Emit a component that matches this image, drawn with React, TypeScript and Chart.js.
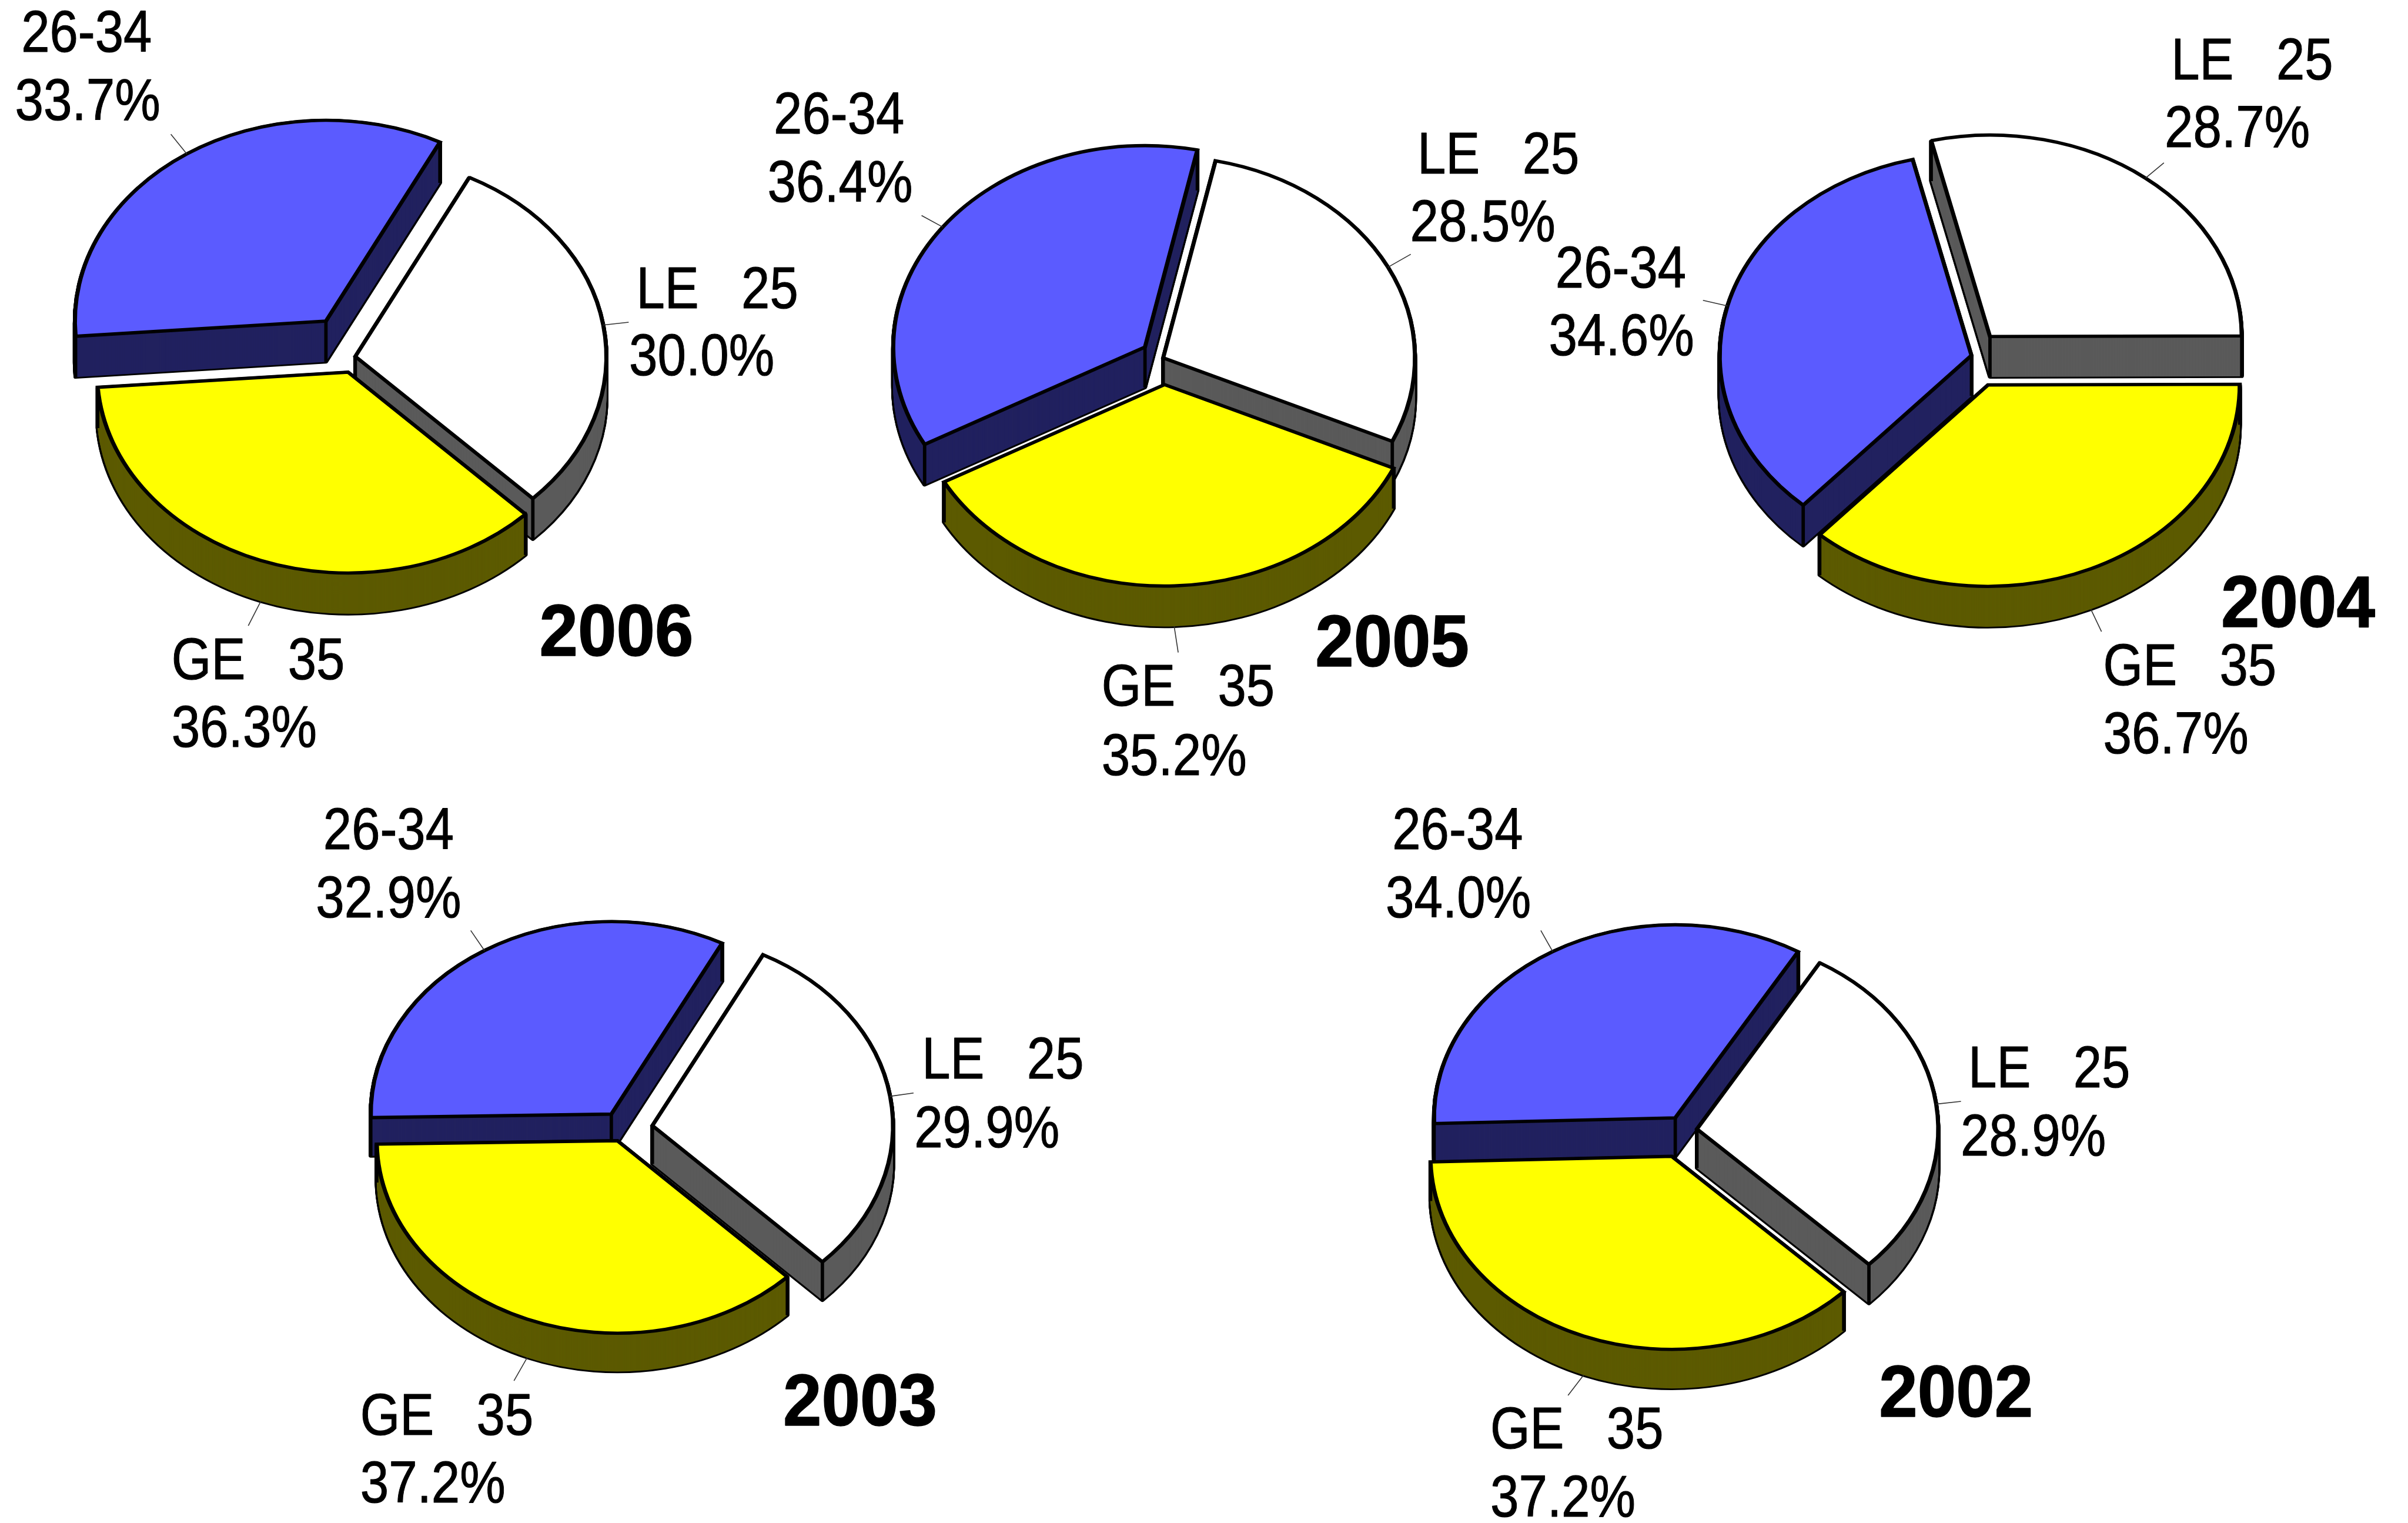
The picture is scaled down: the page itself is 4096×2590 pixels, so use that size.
import React, { useEffect, useRef } from "react";
import { Chart, registerables } from "chart.js";

Chart.register(...registerables);

// ---- data ----
const AGE_GROUPS = ["LE   25", "GE   35", "26-34"];
const YEARS = ["2006", "2005", "2004", "2003", "2002"];
const SHARE_2006 = [30.0, 36.3, 33.7];
const SHARE_2005 = [28.5, 35.2, 36.4];
const SHARE_2004 = [28.7, 36.7, 34.6];
const SHARE_2003 = [29.9, 37.2, 32.9];
const SHARE_2002 = [28.9, 37.2, 34.0];
const SHARES = [SHARE_2006, SHARE_2005, SHARE_2004, SHARE_2003, SHARE_2002];

const TOP_COLORS = ["#ffffff", "#ffff00", "#5b5bff"];
const WALL_COLORS = ["#5a5a5a", "#5c5a00", "#21215f"];

// ---- layout (in reference pixels) ----
const W = 4096;
const H = 2590;
const S = 4096 / 6906;
const TILT = 0.8;
const LINE = 6.4;
const PAINT_ORDER = [2, 0, 1];
const FONT = '"Liberation Sans", Arial, sans-serif';
const TEXT_NUDGE = -6;
const YEAR_NUDGE = -7;

type P = [number, number];
type Layout = {
  c: P;
  r: number;
  depth: number;
  rot: number;
  explode: number[];
  names: P[];
  values: P[];
  ends: P[];
  year: P;
};

const LAYOUTS: Layout[] = [
  {
    c: [1019, 1022], r: 720, depth: 117, rot: 27, explode: [0, 60, 152],
    names: [[1831, 883], [498, 1947], [67, 148]],
    values: [[1810, 1076], [498, 2141], [49, 344]],
    ends: [[1803, 924], [712, 1794], [490, 385]],
    year: [1554, 1880],
  },
  {
    c: [3336, 1026], r: 722, depth: 116, rot: 12, explode: [0, 96, 65],
    names: [[4071, 497], [3165, 2024], [2225, 383]],
    values: [[4050, 691], [3165, 2222], [2207, 579]],
    ends: [[4046, 729], [3379, 1871], [2643, 618]],
    year: [3779, 1910],
  },
  {
    c: [5654, 1019], r: 722, depth: 116, rot: -13.5, explode: [86, 116, 0],
    names: [[6233, 228], [6038, 1965], [4467, 824]],
    values: [[6214, 422], [6038, 2159], [4448, 1018]],
    ends: [[6206, 467], [6027, 1811], [4884, 861]],
    year: [6377, 1797],
  },
  {
    c: [1787, 3238], r: 690, depth: 110, rot: 27.4, explode: [85, 44, 64],
    names: [[2650, 3093], [1039, 4114], [933, 2435]],
    values: [[2628, 3289], [1039, 4307], [912, 2630]],
    ends: [[2620, 3134], [1474, 3959], [1350, 2668]],
    year: [2253, 4087],
  },
  {
    c: [4831, 3241], r: 692, depth: 112, rot: 30.6, explode: [36, 100, 52],
    names: [[5651, 3117], [4280, 4152], [3999, 2435]],
    values: [[5629, 3313], [4280, 4348], [3980, 2630]],
    ends: [[5624, 3158], [4497, 4001], [4419, 2668]],
    year: [5396, 4062],
  },
];

function drawLabel(ctx: any, text: string, at: P, nudge: number, font: string, squeeze: number, weight: number) {
  ctx.save();
  ctx.translate((at[0] + nudge) * S, at[1] * S);
  ctx.scale(squeeze, 1);
  ctx.font = font;
  ctx.fillStyle = "#000";
  ctx.strokeStyle = "#000";
  ctx.lineWidth = weight;
  ctx.lineJoin = "round";
  ctx.textAlign = "left";
  ctx.textBaseline = "alphabetic";
  ctx.fillText(text, 0, 0);
  ctx.strokeText(text, 0, 0);
  ctx.restore();
}

const pie3d = {
  id: "pie3d",
  beforeDatasetsDraw(chart: any, _args: any, opts: any) {
    const ctx = chart.ctx;
    const meta = chart.getDatasetMeta(0);
    const layout: Layout = opts.layout;
    const depth = layout.depth * S;

    PAINT_ORDER.forEach((i) => {
      const arc = meta.data[i];
      const base = arc.options;
      const mid = (arc.startAngle + arc.endAngle) / 2;
      const ex = Math.cos(mid) * layout.explode[i] * S;
      const ey = Math.sin(mid) * layout.explode[i] * S * TILT;

      const paint = (d: number, bg: string, border: string, width: number, join: string) => {
        arc.options = { ...base, backgroundColor: bg, borderColor: border, borderWidth: width, borderJoinStyle: join };
        ctx.save();
        ctx.miterLimit = 2.5;
        ctx.translate(arc.x + ex, arc.y + ey + d);
        ctx.scale(1, TILT);
        ctx.translate(-arc.x, -arc.y);
        arc.draw(ctx);
        ctx.restore();
      };

      // black silhouette of the extruded wedge
      for (let d = depth; d >= 0; d -= 1) paint(d, "#000", "#000", LINE * 1.1, "round");
      // wall colour inside it
      for (let d = depth; d >= 0; d -= 1) paint(d, WALL_COLORS[i], WALL_COLORS[i], 0, "round");

      // vertical edges at the apex and both rim corners
      const px = arc.x + ex;
      const py = arc.y + ey;
      const corners: P[] = [
        [px, py],
        [px + Math.cos(arc.startAngle) * arc.outerRadius, py + Math.sin(arc.startAngle) * arc.outerRadius * TILT],
        [px + Math.cos(arc.endAngle) * arc.outerRadius, py + Math.sin(arc.endAngle) * arc.outerRadius * TILT],
      ];
      ctx.save();
      ctx.strokeStyle = "#000";
      ctx.lineWidth = LINE * 0.9;
      corners.forEach(([x, y]) => {
        ctx.beginPath();
        ctx.moveTo(x, y);
        ctx.lineTo(x, y + depth);
        ctx.stroke();
      });
      ctx.restore();

      // top face
      paint(0, TOP_COLORS[i], "#000", LINE * 1.1, "miter");
      arc.options = base;
    });
    return false;
  },
  afterDraw(chart: any, _args: any, opts: any) {
    const ctx = chart.ctx;
    const meta = chart.getDatasetMeta(0);
    const layout: Layout = opts.layout;
    const values: number[] = chart.data.datasets[0].data;

    AGE_GROUPS.forEach((name, i) => {
      const arc = meta.data[i];
      const mid = (arc.startAngle + arc.endAngle) / 2;
      const ex = Math.cos(mid) * (layout.explode[i] * S + arc.outerRadius);
      const ey = Math.sin(mid) * (layout.explode[i] * S + arc.outerRadius) * TILT;
      const wall = Math.sin(mid) > 0.3 ? layout.depth * S : 0;
      ctx.save();
      ctx.strokeStyle = "#333";
      ctx.lineWidth = 1.6;
      ctx.beginPath();
      ctx.moveTo(arc.x + ex, arc.y + ey + wall);
      ctx.lineTo(layout.ends[i][0] * S, layout.ends[i][1] * S);
      ctx.stroke();
      ctx.restore();

      const font = `${168 * S}px ${FONT}`;
      drawLabel(ctx, name, layout.names[i], TEXT_NUDGE, font, 0.872, 1.1);
      drawLabel(ctx, `${values[i].toFixed(1)}%`, layout.values[i], TEXT_NUDGE, font, 0.875, 1.1);
    });
    drawLabel(ctx, opts.year, layout.year, YEAR_NUDGE, `bold ${210 * S}px ${FONT}`, 0.945, 1.6);
  },
};

function PieCanvas({ index }: { index: number }) {
  const ref = useRef<HTMLCanvasElement>(null);
  useEffect(() => {
    const layout = LAYOUTS[index];
    const cx = layout.c[0] * S;
    const cy = layout.c[1] * S;
    const chart = new Chart(ref.current as HTMLCanvasElement, {
      type: "pie",
      data: {
        labels: AGE_GROUPS,
        datasets: [
          {
            data: SHARES[index],
            backgroundColor: TOP_COLORS,
            borderColor: "#000",
            borderWidth: LINE,
            radius: layout.r * S,
          } as any,
        ],
      },
      options: {
        animation: false,
        responsive: false,
        devicePixelRatio: 1,
        rotation: layout.rot,
        events: [],
        layout: {
          padding: {
            left: Math.max(0, 2 * cx - W),
            right: Math.max(0, W - 2 * cx),
            top: Math.max(0, 2 * cy - H),
            bottom: Math.max(0, H - 2 * cy),
          },
        },
        plugins: {
          legend: { display: false },
          title: { display: false },
          tooltip: { enabled: false },
          pie3d: { layout, year: YEARS[index] },
        } as any,
      },
      plugins: [pie3d as any],
    });
    return () => chart.destroy();
  }, [index]);
  return (
    <canvas
      ref={ref}
      width={W}
      height={H}
      style={{ position: "absolute", left: 0, top: 0, width: W, height: H, display: "block" }}
    />
  );
}

export default function App() {
  return (
    <div style={{ position: "absolute", left: 0, top: 0, width: W, height: H, overflow: "hidden", background: "#fff" }}>
      {YEARS.map((_, i) => (
        <PieCanvas key={i} index={i} />
      ))}
    </div>
  );
}
